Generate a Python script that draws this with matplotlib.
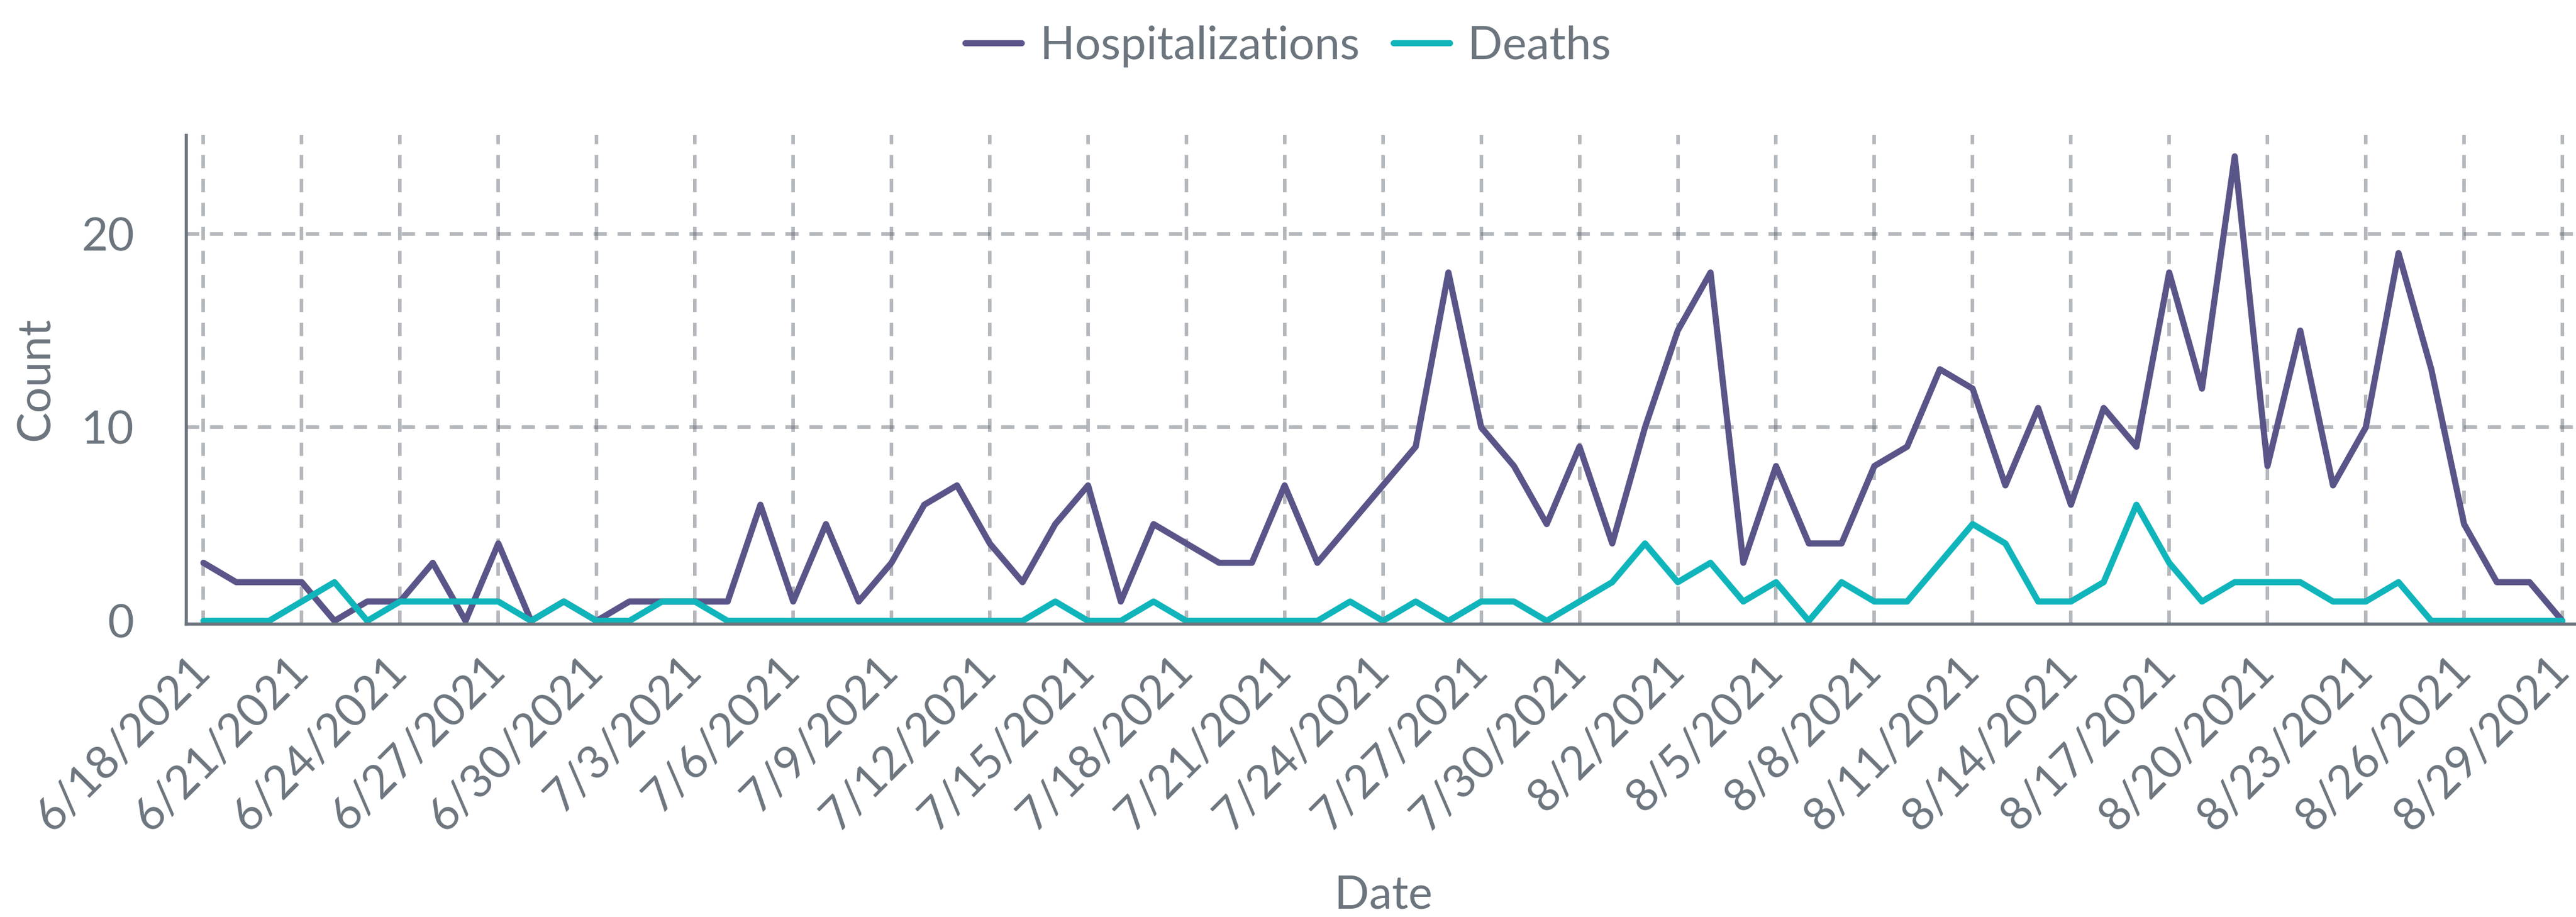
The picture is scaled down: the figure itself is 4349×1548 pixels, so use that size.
import datetime
import matplotlib
matplotlib.use("Agg")
import matplotlib.pyplot as plt

# daily counts from 6/18/2021 to 8/29/2021
start_date = datetime.datetime(2021, 6, 18)

hospitalizations = [3, 2, 2, 2, 0, 1, 1, 3, 0, 4, 0, 1, 0,
                    1, 1, 1, 1, 6, 1, 5, 1, 3, 6, 7, 4, 2, 5, 7, 1, 5, 4, 3, 3, 7, 3, 5,
                    7, 9, 18, 10, 8, 5, 9, 4,
                    10, 15, 18, 3, 8, 4, 4, 8, 9, 13, 12, 7, 11, 6, 11, 9, 18, 12, 24, 8,
                    15, 7, 10, 19, 13, 5, 2, 2, 0]
deaths = [0, 0, 0, 1, 2, 0, 1, 1, 1, 1, 0, 1, 0,
          0, 1, 1, 0, 0, 0, 0, 0, 0, 0, 0, 0, 0, 1, 0, 0, 1, 0, 0, 0, 0, 0, 1,
          0, 1, 0, 1, 1, 0, 1, 2,
          4, 2, 3, 1, 2, 0, 2, 1, 1, 3, 5, 4, 1, 1, 2, 6, 3, 1, 2, 2, 2, 1, 1,
          2, 0, 0, 0, 0, 0]
series_names = ['Hospitalizations', 'Deaths']
y_ticks = [0, 10, 20]

plt.rcParams['font.family'] = ['Lato', 'DejaVu Sans']
text_color = '#6c757d'
W, H = 4349, 1548

dates = [start_date + datetime.timedelta(days=i) for i in range(len(hospitalizations))]

fig = plt.figure(figsize=(W / 300, H / 300), dpi=300)
ax = fig.add_axes([314 / W, 1 - 1053 / H, (W - 314) / W, (1053 - 228) / H])

ax.plot(dates, hospitalizations, color='#5a5589', lw=2.5, label=series_names[0],
        solid_joinstyle='round', solid_capstyle='round')
ax.plot(dates, deaths, color='#10b5bb', lw=2.5, label=series_names[1],
        solid_joinstyle='round', solid_capstyle='round')

# ticks every 3 days
tick_dates = dates[::3]
ax.set_xticks(tick_dates)
ax.set_xticklabels([f"{d.month}/{d.day}/{d.year}" for d in tick_dates],
                   rotation=45, ha='right', va='center', rotation_mode='anchor')
ax.set_xlim(dates[0] - datetime.timedelta(hours=12.8), dates[-1] + datetime.timedelta(hours=10))
ax.set_ylim(-0.15, 25.1)
ax.set_yticks(y_ticks)

# dashed grid, no horizontal line at zero (the axis is there)
grid_style = dict(color=text_color, alpha=0.5, linestyle=(0, (3.7, 3.0)), linewidth=1.45, zorder=0.5)
ax.grid(True, axis='x', **grid_style)
for yv in y_ticks[1:]:
    ax.axhline(yv, **grid_style)
ax.set_axisbelow(True)

for side in ['top', 'right']:
    ax.spines[side].set_visible(False)
for side in ['left', 'bottom']:
    ax.spines[side].set_color(text_color)
    ax.spines[side].set_linewidth(1.3)

ax.tick_params(length=0, labelsize=18.5, labelcolor=text_color)
ax.tick_params(axis='y', pad=21)
ax.tick_params(axis='x', pad=16)

fig.text(61 / W, 1 - 640 / H, 'Count', rotation=90, ha='center', va='center',
         fontsize=18.5, color=text_color)
fig.text(2336 / W, 1 - 1512 / H, 'Date', ha='center', va='center',
         fontsize=18.5, color=text_color)

fig.legend(loc='center', bbox_to_anchor=(2175 / W, 1 - 78 / H), ncol=2, frameon=False,
           fontsize=18.5, handlelength=1.23, handletextpad=0.4, columnspacing=0.75,
           labelcolor=text_color)

fig.savefig('out.png', dpi=300)
